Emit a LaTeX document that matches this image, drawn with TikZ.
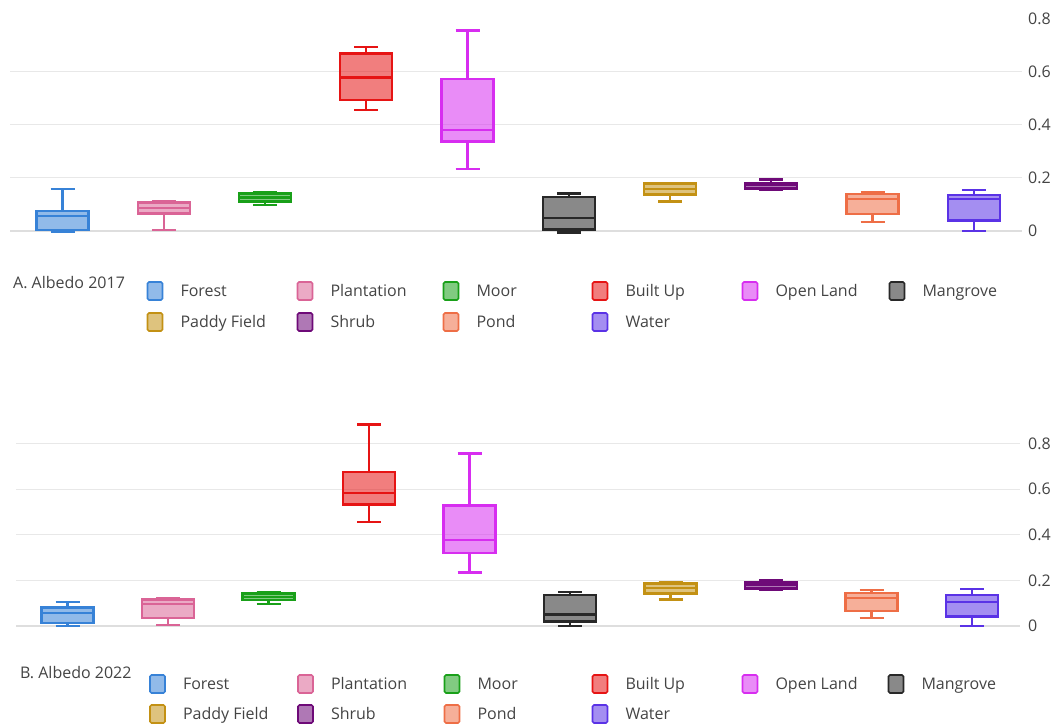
\documentclass[tikz,border=0pt]{standalone}
\usepackage{fontspec}
\setmainfont{Open Sans}
\usetikzlibrary{positioning}
\definecolor{gridc}{RGB}{232,232,232}
\definecolor{zeroc}{RGB}{222,222,222}
\definecolor{labc}{RGB}{68,68,68}
\definecolor{forestc}{RGB}{55,130,215}
\definecolor{plantc}{RGB}{218,100,150}
\definecolor{moorc}{RGB}{25,160,25}
\definecolor{builtc}{RGB}{230,20,20}
\definecolor{openc}{RGB}{215,45,240}
\definecolor{mangc}{RGB}{40,40,40}
\definecolor{paddyc}{RGB}{195,145,20}
\definecolor{shrubc}{RGB}{110,10,120}
\definecolor{pondc}{RGB}{238,110,70}
\definecolor{waterc}{RGB}{90,50,230}
% x, low, q1, median, q3, high, colour
\newcommand{\albbox}[7]{%
  \draw[whisk,draw=#7] (#1,#5) -- (#1,#6) (#1-12,#6) -- (#1+12,#6)
    (#1,#3) -- (#1,#2) (#1-12,#2) -- (#1+12,#2);
  \filldraw[boxst,draw=#7,fill=#7] (#1-26,#3) rectangle (#1+26,#5);
  \draw[whisk,draw=#7] (#1-26,#4) -- (#1+26,#4);
}
% name, x, y, colour, text
\newcommand{\legitem}[5]{%
  \node[legsq,draw=#4,fill=#4] (#1) at (#2,#3) {};
  \node[legtxt] (#1t) [right=17pt of #1] {#5};
}

\begin{document}
\begin{tikzpicture}[x=1pt, y=-1pt]
\tikzstyle{grid}=[draw=gridc, line width=1pt]
\tikzstyle{zero}=[draw=zeroc, line width=1.3pt]
\tikzstyle{whisk}=[line width=2.4pt]
\tikzstyle{boxst}=[line width=2.4pt, fill opacity=0.55]
\tikzstyle{ticklab}=[anchor=west, inner sep=0pt, text=labc, font=\fontsize{16}{19}\selectfont]
\tikzstyle{legsq}=[rectangle, rounded corners=1.5pt, minimum width=15pt, minimum height=18pt, inner sep=0pt, line width=1.6pt, fill opacity=0.55]
\tikzstyle{legtxt}=[anchor=west, inner sep=0pt, text height=11.4pt, text depth=0pt, text=labc, font=\fontsize{16}{19}\selectfont]
\tikzstyle{title}=[legtxt]
\useasboundingbox (0,0) rectangle (1056,727);

%A. Albedo 2017
\begin{scope}[shift={(0,231)}, y=265pt]
\draw[grid] (10,0.2) -- (1022,0.2) (10,0.4) -- (1022,0.4) (10,0.6) -- (1022,0.6);
\draw[zero] (10,0) -- (1022,0);
\node[ticklab] (ta0) at (1028,0) {0};
\node[ticklab] (ta2) at (1028,0.2) {0.2};
\node[ticklab] (ta4) at (1028,0.4) {0.4};
\node[ticklab] (ta6) at (1028,0.6) {0.6};
\node[ticklab] (ta8) at (1028,0.8) {0.8};
\albbox{62.5}{-0.003}{0.004}{0.057}{0.075}{0.158}{forestc}
\albbox{163.75}{0.004}{0.066}{0.086}{0.107}{0.111}{plantc}
\albbox{265}{0.098}{0.111}{0.127}{0.142}{0.148}{moorc}
\albbox{366.25}{0.457}{0.494}{0.579}{0.670}{0.695}{builtc}
\albbox{467.5}{0.233}{0.337}{0.381}{0.574}{0.756}{openc}
\albbox{568.75}{-0.005}{0.006}{0.050}{0.129}{0.142}{mangc}
\albbox{670}{0.111}{0.138}{0.158}{0.180}{0.182}{paddyc}
\albbox{771.25}{0.155}{0.161}{0.174}{0.182}{0.195}{shrubc}
\albbox{872.5}{0.033}{0.064}{0.120}{0.140}{0.148}{pondc}
\albbox{973.75}{0}{0.039}{0.120}{0.136}{0.155}{waterc}
\end{scope}

\node[title] (titA) at (13,283) {A. Albedo 2017};
\legitem{aForest}{155}{291}{forestc}{Forest}
\legitem{aPlant}{305}{291}{plantc}{Plantation}
\legitem{aMoor}{451}{291}{moorc}{Moor}
\legitem{aBuilt}{600}{291}{builtc}{Built Up}
\legitem{aOpen}{750}{291}{openc}{Open Land}
\legitem{aMang}{897}{291}{mangc}{Mangrove}
\legitem{aPaddy}{155}{322}{paddyc}{Paddy Field}
\legitem{aShrub}{305}{322}{shrubc}{Shrub}
\legitem{aPond}{451}{322}{pondc}{Pond}
\legitem{aWater}{600}{322}{waterc}{Water}

%B. Albedo 2022
\begin{scope}[shift={(0,626)}, y=228pt]
\draw[grid] (16,0.2) -- (1020,0.2) (16,0.4) -- (1020,0.4) (16,0.6) -- (1020,0.6) (16,0.8) -- (1020,0.8);
\draw[zero] (16,0) -- (1020,0);
\node[ticklab] (tb0) at (1028,0) {0};
\node[ticklab] (tb2) at (1028,0.2) {0.2};
\node[ticklab] (tb4) at (1028,0.4) {0.4};
\node[ticklab] (tb6) at (1028,0.6) {0.6};
\node[ticklab] (tb8) at (1028,0.8) {0.8};
\albbox{67.5}{0.001}{0.012}{0.056}{0.082}{0.106}{forestc}
\albbox{168}{0.004}{0.034}{0.096}{0.117}{0.121}{plantc}
\albbox{268.5}{0.096}{0.114}{0.128}{0.143}{0.150}{moorc}
\albbox{369}{0.457}{0.533}{0.584}{0.676}{0.883}{builtc}
\albbox{469.5}{0.234}{0.321}{0.377}{0.529}{0.757}{openc}
\albbox{570}{0}{0.019}{0.051}{0.136}{0.150}{mangc}
\albbox{670.5}{0.117}{0.143}{0.168}{0.187}{0.190}{paddyc}
\albbox{771}{0.160}{0.165}{0.179}{0.191}{0.201}{shrubc}
\albbox{871.5}{0.036}{0.067}{0.124}{0.146}{0.158}{pondc}
\albbox{972}{0.001}{0.041}{0.106}{0.136}{0.161}{waterc}
\end{scope}

\node[title] (titB) at (20,673) {B. Albedo 2022};
\legitem{bForest}{157.5}{684}{forestc}{Forest}
\legitem{bPlant}{305.5}{684}{plantc}{Plantation}
\legitem{bMoor}{452}{684}{moorc}{Moor}
\legitem{bBuilt}{600}{684}{builtc}{Built Up}
\legitem{bOpen}{750}{684}{openc}{Open Land}
\legitem{bMang}{896}{684}{mangc}{Mangrove}
\legitem{bPaddy}{157.5}{714}{paddyc}{Paddy Field}
\legitem{bShrub}{305.5}{714}{shrubc}{Shrub}
\legitem{bPond}{452}{714}{pondc}{Pond}
\legitem{bWater}{600}{714}{waterc}{Water}
\end{tikzpicture}
\end{document}
